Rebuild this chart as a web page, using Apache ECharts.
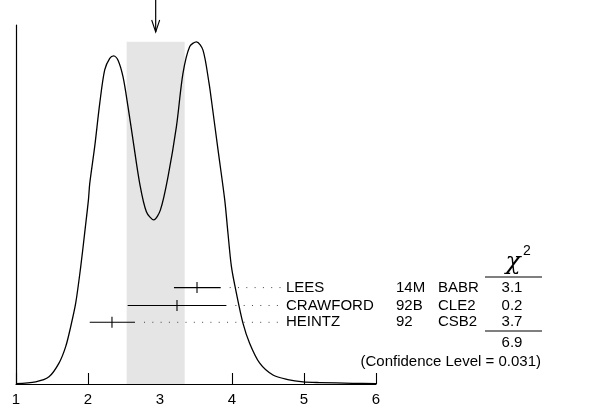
<!DOCTYPE html>
<html>
<head>
<meta charset="utf-8">
<script src="https://cdn.jsdelivr.net/npm/echarts@6/dist/echarts.min.js"></script>
<style>
html, body { margin: 0; padding: 0; background: #fff; }
#main { width: 597px; height: 410px; }
</style>
</head>
<body>
<div id="main"></div>
<script>
// ideogram curve
var curveX = [1.00, 1.274, 1.458, 1.597, 1.690, 1.760, 1.829, 1.899, 1.954, 2.006, 2.024, 2.093, 2.164, 2.232, 2.302, 2.357, 2.417, 2.486, 2.556, 2.625, 2.718, 2.811, 2.913, 3.006, 3.111, 3.228, 3.319, 3.413, 3.506, 3.597, 3.681, 3.714, 3.806, 3.899, 3.944, 3.992, 4.061, 4.153, 4.246, 4.385, 4.569, 4.774, 4.986, 5.218, 5.676, 6.00];
var curveY = [0.001, 0.006, 0.020, 0.058, 0.104, 0.160, 0.225, 0.327, 0.421, 0.513, 0.558, 0.661, 0.783, 0.875, 0.907, 0.914, 0.902, 0.856, 0.772, 0.680, 0.559, 0.480, 0.457, 0.485, 0.577, 0.717, 0.865, 0.940, 0.953, 0.930, 0.838, 0.791, 0.652, 0.513, 0.420, 0.327, 0.253, 0.169, 0.113, 0.058, 0.025, 0.0125, 0.006, 0.004, 0.002, 0.001];

// measurements
var names = ['LEES', 'CRAWFORD', 'HEINTZ'];
var years = ['14M', '92B', '92'];
var expts = ['BABR', 'CLE2', 'CSB2'];
var values = [3.514, 3.236, 2.333];
var errLow = [3.194, 2.551, 2.024];
var errHigh = [3.843, 3.922, 2.653];
var rowY = [0.2685, 0.2187, 0.1719];
var chi2 = ['3.1', '0.2', '3.7'];
var chi2Total = '6.9';
var confLevel = '0.031';

// weighted average and its error (grey band)
var average = 2.94;
var bandLow = 2.537, bandHigh = 3.343, bandTop = 0.953;

var FONT = 'Liberation Sans, Arial, Helvetica, sans-serif';
var col = { name: 286, year: 396, expt: 438, chi: 512 };

var chart = echarts.init(document.getElementById('main'));

var curveData = [];
for (var i = 0; i < curveX.length; i++) {
	curveData.push([curveX[i], curveY[i]]);
}
var measData = [];
for (var j = 0; j < names.length; j++) {
	measData.push([values[j], errLow[j], errHigh[j], rowY[j], j]);
}

function renderMeas(params, api) {
	var k = api.value(4);
	var c = api.coord([api.value(0), api.value(3)]);
	var lo = api.coord([api.value(1), api.value(3)]);
	var hi = api.coord([api.value(2), api.value(3)]);
	var y = c[1];
	var txt = function (s, x, align) {
		return { type: 'text', x: x, y: y, style: { text: s, fill: '#000', font: '15px ' + FONT, align: align, verticalAlign: 'middle' } };
	};
	return {
		type: 'group',
		children: [
			{ type: 'line', shape: { x1: lo[0], y1: y, x2: hi[0], y2: y }, style: { stroke: '#000', lineWidth: 1.1 } },
			{ type: 'line', shape: { x1: c[0], y1: y - 5.5, x2: c[0], y2: y + 5.5 }, style: { stroke: '#000', lineWidth: 1.1 } },
			{ type: 'line', shape: { x1: hi[0] + 9, y1: y, x2: col.name - 5, y2: y }, style: { stroke: '#444', lineWidth: 1, lineDash: [1, 7.3] } },
			txt(names[k], col.name, 'left'),
			txt(years[k], col.year, 'left'),
			txt(expts[k], col.expt, 'left'),
			txt(chi2[k], col.chi, 'center')
		]
	};
}

function renderArrow(params, api) {
	var p = api.coord([api.value(0), 1]);
	var tipY = p[1] + 7;
	return {
		type: 'group',
		children: [
			{ type: 'line', shape: { x1: p[0], y1: 0, x2: p[0], y2: tipY }, style: { stroke: '#000', lineWidth: 1.2 } },
			{ type: 'polyline', shape: { points: [[p[0] - 4, tipY - 12], [p[0], tipY], [p[0] + 4, tipY - 12]] }, style: { stroke: '#000', fill: null, lineWidth: 1.1 } }
		]
	};
}

var option = {
	animation: false,
	backgroundColor: '#fff',
	grid: { left: 16, right: 221, top: 25, bottom: 26 },
	xAxis: {
		type: 'value',
		min: 1,
		max: 6,
		interval: 1,
		axisLine: { lineStyle: { color: '#000', width: 1.2 } },
		axisTick: { inside: true, length: 11, lineStyle: { color: '#000', width: 1.1 } },
		axisLabel: { color: '#000', fontSize: 15, fontFamily: FONT, margin: 8 },
		splitLine: { show: false }
	},
	yAxis: {
		type: 'value',
		min: 0,
		max: 1,
		axisLine: { show: true, lineStyle: { color: '#000', width: 1.2 } },
		axisTick: { show: false },
		axisLabel: { show: false },
		splitLine: { show: false }
	},
	series: [{
		type: 'line',
		data: curveData,
		smooth: 0.3,
		symbol: 'none',
		z: 3,
		lineStyle: { color: '#000', width: 1.3 },
		markArea: {
			silent: true,
			itemStyle: { color: '#e5e5e5' },
			data: [[{ coord: [bandLow, 0] }, { coord: [bandHigh, bandTop] }]]
		}
	}, {
		type: 'custom',
		clip: false,
		z: 4,
		renderItem: renderMeas,
		encode: { x: [0, 1, 2], y: 3 },
		data: measData
	}, {
		type: 'custom',
		clip: false,
		z: 4,
		renderItem: renderArrow,
		encode: { x: 0, y: 1 },
		data: [[average, 1]]
	}],
	graphic: [
		{ type: 'text', x: 513, y: 262, style: { text: 'χ', fill: '#000', font: 'italic 25px DejaVu Serif', align: 'center', verticalAlign: 'middle' } },
		{ type: 'text', x: 523, y: 251, style: { text: '2', fill: '#000', font: '14px ' + FONT, align: 'left', verticalAlign: 'middle' } },
		{ type: 'line', shape: { x1: 485, y1: 277, x2: 542, y2: 277 }, style: { stroke: '#000', lineWidth: 1.1 } },
		{ type: 'line', shape: { x1: 485, y1: 331, x2: 542, y2: 331 }, style: { stroke: '#000', lineWidth: 1.1 } },
		{ type: 'text', x: col.chi, y: 343, style: { text: chi2Total, fill: '#000', font: '15px ' + FONT, align: 'center', verticalAlign: 'middle' } },
		{ type: 'text', x: 541, y: 362, style: { text: '(Confidence Level = ' + confLevel + ')', fill: '#000', font: '15px ' + FONT, align: 'right', verticalAlign: 'middle' } }
	]
};

chart.setOption(option);
</script>
</body>
</html>
